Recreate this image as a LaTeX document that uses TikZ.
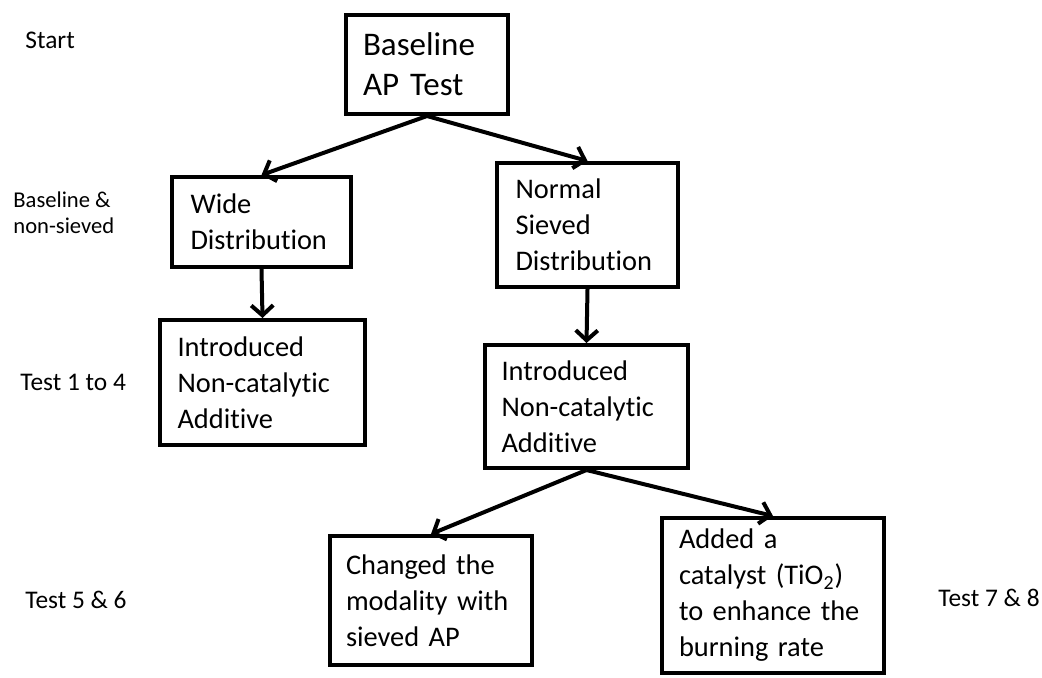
\documentclass[tikz,border=0pt]{standalone}
\usepackage{fontspec}
\setmainfont{Carlito}[Ligatures={NoCommon}]
\usetikzlibrary{arrows.meta}
\begin{document}
\begin{tikzpicture}[x=0.5pt,y=-0.5pt,
  stepbox/.style={draw, line width=2pt, align=left, inner sep=0pt,
    font=\fontsize{14.2pt}{18pt}\selectfont},
  sidelabel/.style={anchor=west, align=left, inner sep=0pt,
    font=\fontsize{12.7pt}{15pt}\selectfont},
  flow/.style={line width=2pt, -{Straight Barb[length=5pt,width=11pt]}}]
\useasboundingbox (0,0) rectangle (1042,677);
\node[stepbox, minimum width=81pt, minimum height=49.5pt, text width=64pt,
  font=\fontsize{16.5pt}{20pt}\selectfont] (b1) at (427,64.5) {Baseline\\AP Test};
\node[stepbox, minimum width=89.5pt, minimum height=45pt, text width=71pt] (wide) at (261.5,222) {Wide\\Distribution};
\node[stepbox, minimum width=90.5pt, minimum height=62pt, text width=72pt] (normal) at (587.5,225) {Normal\\Sieved\\Distribution};
\node[stepbox, minimum width=102.5pt, minimum height=62.5pt, text width=85pt] (introl) at (262.5,382.5) {Introduced\\Non-catalytic\\Additive};
\node[stepbox, minimum width=101.5pt, minimum height=61.5pt, text width=85pt] (intror) at (586.5,406.5) {Introduced\\Non-catalytic\\Additive};
\node[stepbox, minimum width=101pt, minimum height=64.5pt, text width=85pt] (changed) at (431,600.5) {Changed the\\modality with\\sieved AP};
\node[stepbox, minimum width=111pt, minimum height=77.5pt, text width=94pt] (added) at (773,595.5) {Added a\\catalyst (TiO\textsubscript{2})\\to enhance the\\burning rate};
\draw[flow] (b1.south) -- (wide.north);
\draw[flow] (b1.south) -- (normal.north);
\draw[flow] (wide.south) -- (introl.north);
\draw[flow] (normal.south) -- (intror.north);
\draw[flow] (intror.south) -- (changed.north);
\draw[flow] (intror.south) -- (added.north);
\node[sidelabel] (lstart) at (25,40) {Start};
\node[sidelabel, font=\fontsize{11.3pt}{13pt}\selectfont] (lbase) at (13,213) {Baseline \&\\non-sieved};
\node[sidelabel] (ltest1) at (20,382) {Test 1 to 4};
\node[sidelabel] (ltest5) at (25,600) {Test 5 \& 6};
\node[sidelabel] (ltest7) at (938,598) {Test 7 \& 8};
\end{tikzpicture}
\end{document}
